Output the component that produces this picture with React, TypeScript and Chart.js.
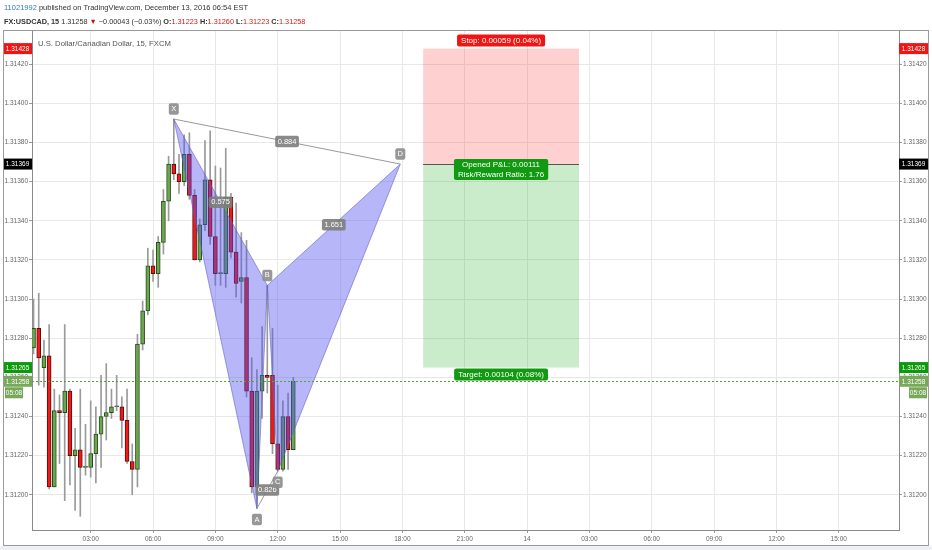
import React, { useEffect, useRef } from "react";
import { Chart, registerables } from "chart.js";

Chart.register(...registerables);

// ---- candle data (15-minute bars, hour of day) ----
const HOURS = [0.25, 0.5, 0.75, 1, 1.25, 1.5, 1.75, 2, 2.25, 2.5, 2.75, 3, 3.25, 3.5, 3.75, 4, 4.25, 4.5, 4.75, 5, 5.25, 5.5, 5.75, 6, 6.25, 6.5, 6.75, 7, 7.25, 7.5, 7.75, 8, 8.25, 8.5, 8.75, 9, 9.25, 9.5, 9.75, 10, 10.25, 10.5, 10.75, 11, 11.25, 11.5, 11.75, 12, 12.25, 12.5, 12.75];
const OPEN = [1.31275, 1.31285, 1.31265, 1.31271, 1.31204, 1.31243, 1.31242, 1.31253, 1.31220, 1.31223, 1.31214, 1.31214, 1.31221, 1.31231, 1.31240, 1.31242, 1.31245, 1.31245, 1.31238, 1.31217, 1.31213, 1.31277, 1.31294, 1.31317, 1.31313, 1.31329, 1.31350, 1.31369, 1.31364, 1.31360, 1.31374, 1.31353, 1.31320, 1.31338, 1.31361, 1.31332, 1.31313, 1.31313, 1.31352, 1.31324, 1.31309, 1.31311, 1.31253, 1.31204, 1.31253, 1.31261, 1.31261, 1.31226, 1.31213, 1.31240, 1.31223];
const HIGH = [1.31300, 1.31303, 1.31279, 1.31287, 1.31254, 1.31251, 1.31287, 1.31254, 1.31234, 1.31254, 1.31236, 1.31248, 1.31245, 1.31261, 1.31267, 1.31254, 1.31261, 1.31250, 1.31254, 1.31226, 1.31282, 1.31299, 1.31326, 1.31325, 1.31332, 1.31356, 1.31373, 1.31392, 1.31374, 1.31384, 1.31385, 1.31356, 1.31341, 1.31381, 1.31386, 1.31368, 1.31367, 1.31377, 1.31354, 1.31349, 1.31334, 1.31330, 1.31270, 1.31264, 1.31286, 1.31307, 1.31285, 1.31256, 1.31248, 1.31252, 1.31260];
const LOW = [1.31272, 1.31256, 1.31255, 1.31203, 1.31204, 1.31216, 1.31197, 1.31205, 1.31192, 1.31189, 1.31210, 1.31209, 1.31206, 1.31214, 1.31228, 1.31239, 1.31243, 1.31224, 1.31216, 1.31200, 1.31204, 1.31274, 1.31292, 1.31309, 1.31306, 1.31323, 1.31340, 1.31361, 1.31354, 1.31358, 1.31351, 1.31320, 1.31319, 1.31335, 1.31328, 1.31307, 1.31307, 1.31306, 1.31321, 1.31301, 1.31298, 1.31250, 1.31201, 1.31193, 1.31239, 1.31252, 1.31221, 1.31212, 1.31212, 1.31213, 1.31223];
const CLOSE = [1.31285, 1.31270, 1.31271, 1.31204, 1.31243, 1.31242, 1.31253, 1.31220, 1.31223, 1.31214, 1.31214, 1.31221, 1.31231, 1.31240, 1.31242, 1.31245, 1.31245, 1.31238, 1.31217, 1.31213, 1.31277, 1.31294, 1.31317, 1.31313, 1.31329, 1.31350, 1.31369, 1.31364, 1.31360, 1.31374, 1.31353, 1.31320, 1.31338, 1.31361, 1.31332, 1.31313, 1.31313, 1.31352, 1.31324, 1.31308, 1.31311, 1.31253, 1.31204, 1.31253, 1.31261, 1.31260, 1.31226, 1.31213, 1.31240, 1.31223, 1.31258];

// ---- axes ----
const X_TICK_VALUES = [3, 6, 9, 12, 15, 18, 21, 24, 27, 30, 33, 36, 39];
const X_TICK_LABELS = ["03:00", "06:00", "09:00", "12:00", "15:00", "18:00", "21:00", "14", "03:00", "06:00", "09:00", "12:00", "15:00"];
const X_MIN = 0.176;
const X_MAX = 41.9;
const Y_TICK_VALUES = [1.312, 1.3122, 1.3124, 1.3126, 1.3128, 1.313, 1.3132, 1.3134, 1.3136, 1.3138, 1.314, 1.3142];
const Y_MIN = 1.31182;
const Y_MAX = 1.31437;

// ---- harmonic pattern ----
const PATTERN_LABELS = ["X", "A", "B", "C", "D"];
const PATTERN_HOURS = [7.0, 11.0, 11.5, 12.0, 17.9];
const PATTERN_PRICES = [1.31392, 1.31193, 1.31307, 1.31212, 1.31369];
const RATIO_FROM = [0, 1, 2, 0];
const RATIO_TO = [2, 3, 4, 4];
const RATIO_TEXT = ["0.575", "0.826", "1.651", "0.884"];

// ---- short position tool ----
const POS_HOURS = [19.0, 26.5];
const STOP_PRICE = 1.31428;
const ENTRY_PRICE = 1.31369;
const TARGET_PRICE = 1.31265;
const LAST_PRICE = 1.31258;
const STOP_TEXT = "Stop: 0.00059 (0.04%)";
const PNL_TEXT = ["Opened P&L: 0.00111", "Risk/Reward Ratio: 1.76"];
const TARGET_TEXT = "Target: 0.00104 (0.08%)";
const COUNTDOWN = "05:08";

const FONT = '"Liberation Sans", Arial, sans-serif';
const GREEN = "#6aa84f";
const RED = "#f01a1a";

function rr(ctx: CanvasRenderingContext2D, x: number, y: number, w: number, h: number, r: number) {
  ctx.beginPath();
  ctx.moveTo(x + r, y);
  ctx.lineTo(x + w - r, y);
  ctx.quadraticCurveTo(x + w, y, x + w, y + r);
  ctx.lineTo(x + w, y + h - r);
  ctx.quadraticCurveTo(x + w, y + h, x + w - r, y + h);
  ctx.lineTo(x + r, y + h);
  ctx.quadraticCurveTo(x, y + h, x, y + h - r);
  ctx.lineTo(x, y + r);
  ctx.quadraticCurveTo(x, y, x + r, y);
  ctx.closePath();
}

function labelBox(ctx: CanvasRenderingContext2D, cx: number, cy: number, lines: string[], bg: string, size: number, padX: number, lineH: number, minW = 0) {
  ctx.font = `${size}px ${FONT}`;
  let w = minW;
  lines.forEach((l) => (w = Math.max(w, ctx.measureText(l).width + padX * 2)));
  const h = lines.length * lineH + 2;
  rr(ctx, cx - w / 2, cy - h / 2, w, h, 2);
  ctx.fillStyle = bg;
  ctx.fill();
  ctx.fillStyle = "#fff";
  ctx.textAlign = "center";
  ctx.textBaseline = "middle";
  lines.forEach((l, i) => ctx.fillText(l, cx, cy - h / 2 + 1 + lineH * (i + 0.5)));
}

function axisBadge(ctx: CanvasRenderingContext2D, x: number, w: number, cy: number, bg: string, text: string) {
  ctx.fillStyle = bg;
  ctx.fillRect(x, cy - 5.5, w, 11);
  ctx.fillStyle = "#fff";
  ctx.font = `6.5px ${FONT}`;
  ctx.textAlign = "center";
  ctx.textBaseline = "middle";
  ctx.fillText(text, x + w / 2, cy + 0.5);
}

const overlayPlugin = {
  id: "overlay",
  beforeDraw(chart: any) {
    const ctx = chart.ctx;
    ctx.save();
    ctx.fillStyle = "#fff";
    ctx.fillRect(0, 0, chart.width, chart.height);
    ctx.fillStyle = "#eef1f4";
    ctx.fillRect(0, 546, chart.width, chart.height - 546);
    ctx.restore();
  },
  beforeDatasetsDraw(chart: any) {
    const ctx = chart.ctx;
    const xs = chart.scales.x;
    const ys = chart.scales.y;
    const x0 = xs.getPixelForValue(POS_HOURS[0]);
    const x1 = xs.getPixelForValue(POS_HOURS[1]);
    const yS = ys.getPixelForValue(STOP_PRICE);
    const yE = ys.getPixelForValue(ENTRY_PRICE);
    const yT = ys.getPixelForValue(TARGET_PRICE);
    ctx.save();
    ctx.fillStyle = "rgba(255,40,40,0.22)";
    ctx.fillRect(x0, yS, x1 - x0, yE - yS);
    ctx.fillStyle = "rgba(20,170,20,0.22)";
    ctx.fillRect(x0, yE, x1 - x0, yT - yE);
    ctx.restore();
  },
  afterDatasetsDraw(chart: any) {
    const ctx = chart.ctx;
    const xs = chart.scales.x;
    const ys = chart.scales.y;
    const a = chart.chartArea;
    const pts = PATTERN_HOURS.map((h, i) => ({ x: xs.getPixelForValue(h), y: ys.getPixelForValue(PATTERN_PRICES[i]) }));
    ctx.save();
    // triangles XAB and BCD
    [[0, 1, 2], [2, 3, 4]].forEach((tri) => {
      ctx.beginPath();
      tri.forEach((k, j) => (j === 0 ? ctx.moveTo(pts[k].x, pts[k].y) : ctx.lineTo(pts[k].x, pts[k].y)));
      ctx.closePath();
      ctx.fillStyle = "rgba(80,80,238,0.42)";
      ctx.fill();
      ctx.strokeStyle = "rgba(100,100,190,0.6)";
      ctx.lineWidth = 1;
      ctx.stroke();
    });
    // X-D and A-C lines
    ctx.strokeStyle = "#9a9a9a";
    ctx.lineWidth = 1;
    [[0, 4], [1, 3]].forEach(([p, q]) => {
      ctx.beginPath();
      ctx.moveTo(pts[p].x, pts[p].y);
      ctx.lineTo(pts[q].x, pts[q].y);
      ctx.stroke();
    });
    // last-price dotted line
    const yL = ys.getPixelForValue(LAST_PRICE);
    ctx.setLineDash([2, 2]);
    ctx.strokeStyle = "#4fa82a";
    ctx.beginPath();
    ctx.moveTo(a.left, Math.round(yL) + 0.5);
    ctx.lineTo(a.right, Math.round(yL) + 0.5);
    ctx.stroke();
    ctx.setLineDash([]);
    // ratio labels
    RATIO_TEXT.forEach((t, i) => {
      const p = pts[RATIO_FROM[i]];
      const q = pts[RATIO_TO[i]];
      labelBox(ctx, (p.x + q.x) / 2, (p.y + q.y) / 2, [t], "rgba(125,125,125,0.9)", 7.5, 2.5, 9.5);
    });
    // point labels
    PATTERN_LABELS.forEach((t, i) => {
      const above = i % 2 === 0;
      labelBox(ctx, pts[i].x, pts[i].y + (above ? -10 : 11), [t], "rgba(140,140,140,0.9)", 7.5, 2, 9.5, 10);
    });
    // position tool
    const x0 = xs.getPixelForValue(POS_HOURS[0]);
    const x1 = xs.getPixelForValue(POS_HOURS[1]);
    const cx = (x0 + x1) / 2;
    const yS = ys.getPixelForValue(STOP_PRICE);
    const yE = ys.getPixelForValue(ENTRY_PRICE);
    const yT = ys.getPixelForValue(TARGET_PRICE);
    ctx.strokeStyle = "#555";
    ctx.beginPath();
    ctx.moveTo(x0, Math.round(yE) + 0.5);
    ctx.lineTo(x1, Math.round(yE) + 0.5);
    ctx.stroke();
    labelBox(ctx, cx, yS - 8, [STOP_TEXT], "#f01414", 8, 4, 10);
    labelBox(ctx, cx, yE + 5.5, PNL_TEXT, "#119a11", 8, 4, 9.5);
    labelBox(ctx, cx, yT + 7, [TARGET_TEXT], "#119a11", 8, 4, 10);
    ctx.restore();
  },
  afterDraw(chart: any) {
    const ctx = chart.ctx;
    const ys = chart.scales.y;
    const a = chart.chartArea;
    ctx.save();
    const leftX = 3;
    const rightX = a.right;
    const w = 29;
    const badges: [number, string][] = [
      [STOP_PRICE, "#f01414"],
      [ENTRY_PRICE, "#000"],
      [TARGET_PRICE, "#0a9a0a"],
      [LAST_PRICE, "#78a95a"],
    ];
    badges.forEach(([p, c]) => {
      const y = ys.getPixelForValue(p);
      axisBadge(ctx, leftX, w, y, c, p.toFixed(5));
      axisBadge(ctx, rightX, w, y, c, p.toFixed(5));
    });
    const yc = ys.getPixelForValue(LAST_PRICE) + 11.5;
    axisBadge(ctx, leftX + 2, 18, yc, "#78a95a", COUNTDOWN);
    axisBadge(ctx, rightX + 10, 18, yc, "#78a95a", COUNTDOWN);
    // frame
    ctx.strokeStyle = "#9a9a9a";
    ctx.lineWidth = 1;
    ctx.strokeRect(3.5, 30.5, 925, 515);
    ctx.restore();
  },
};

export default function App() {
  const ref = useRef<HTMLCanvasElement | null>(null);
  useEffect(() => {
    if (!ref.current) return;
    const bodyColors = OPEN.map((o, i) => (CLOSE[i] >= o ? GREEN : RED));
    const borderColors = OPEN.map((o, i) => (CLOSE[i] >= o ? "#2b4a1c" : "#5a0a0a"));
    const yScaleBase = (position: string, onArea: boolean) => ({
      type: "linear",
      position,
      min: Y_MIN,
      max: Y_MAX,
      afterBuildTicks: (s: any) => {
        s.ticks = Y_TICK_VALUES.map((v) => ({ value: v }));
      },
      afterFit: (s: any) => {
        s.width = 29;
      },
      ticks: {
        callback: (v: any) => Number(v).toFixed(5),
        font: { size: 6.5, family: FONT },
        color: "#666",
        padding: 1,
      },
      grid: { color: "#e8e8e8", tickLength: 3, drawOnChartArea: onArea, tickColor: "#999", offset: false },
      border: { color: "#8a8a8a" },
    });
    const chart = new Chart(ref.current, {
      type: "bar",
      data: {
        datasets: [
          {
            label: "body",
            data: HOURS.map((h, i) => ({ x: h, y: [OPEN[i], CLOSE[i]] })) as any,
            backgroundColor: bodyColors,
            borderColor: borderColors,
            borderWidth: 1,
            borderSkipped: false,
            barThickness: 4,
            minBarLength: 1,
            grouped: false,
            order: 0,
          } as any,
          {
            label: "wick",
            data: HOURS.map((h, i) => ({ x: h, y: [LOW[i], HIGH[i]] })) as any,
            backgroundColor: "#9a9a9a",
            borderWidth: 0,
            barThickness: 1,
            grouped: false,
            order: 1,
          } as any,
        ],
      },
      options: {
        responsive: false,
        animation: false,
        events: [],
        layout: { padding: { left: 3, right: 4, top: 31, bottom: 5 } },
        plugins: { legend: { display: false }, tooltip: { enabled: false } },
        scales: {
          x: {
            type: "linear",
            min: X_MIN,
            max: X_MAX,
            offset: false,
            afterBuildTicks: (s: any) => {
              s.ticks = X_TICK_VALUES.map((v) => ({ value: v }));
            },
            afterFit: (s: any) => {
              s.height = 15;
            },
            ticks: {
              callback: (_v: any, i: number) => X_TICK_LABELS[i],
              font: { size: 6.5, family: FONT },
              color: "#666",
              maxRotation: 0,
              autoSkip: false,
              padding: 2,
            },
            grid: { color: "#e8e8e8", tickLength: 3, tickColor: "#999", offset: false },
            border: { color: "#8a8a8a" },
          },
          y: yScaleBase("left", true) as any,
          y2: yScaleBase("right", false) as any,
        },
      } as any,
      plugins: [overlayPlugin],
    });
    return () => chart.destroy();
  }, []);

  const red = { color: "#c81e1e" };
  const b = { fontWeight: 700 as const };
  return (
    <div style={{ position: "fixed", left: 0, top: 0, width: 932, height: 550, background: "#fff", overflow: "hidden" }}>
      <canvas ref={ref} width={932} height={550} style={{ display: "block", position: "absolute", left: 0, top: 0 }} />
      <div style={{ position: "absolute", left: 4, top: 2, fontFamily: FONT, fontSize: 7.5, lineHeight: "11px", color: "#333", whiteSpace: "nowrap" }}>
        <span style={{ color: "#2f7ec1" }}>11021992</span> published on TradingView.com, December 13, 2016 06:54 EST
      </div>
      <div style={{ position: "absolute", left: 4, top: 15.5, fontFamily: FONT, fontSize: 7.3, lineHeight: "11px", color: "#333", whiteSpace: "nowrap" }}>
        <span style={b}>FX:USDCAD, 15</span> 1.31258 <span style={{ color: "#d01010" }}>▼</span> −0.00043 (−0.03%) <span style={b}>O:</span>
        <span style={red}>1.31223</span> <span style={b}>H:</span>
        <span style={red}>1.31260</span> <span style={b}>L:</span>
        <span style={red}>1.31223</span> <span style={b}>C:</span>
        <span style={red}>1.31258</span>
      </div>
      <div style={{ position: "absolute", left: 38, top: 37.5, fontFamily: FONT, fontSize: 7.7, lineHeight: "11px", color: "#555", whiteSpace: "nowrap" }}>
        U.S. Dollar/Canadian Dollar, 15, FXCM
      </div>
    </div>
  );
}
